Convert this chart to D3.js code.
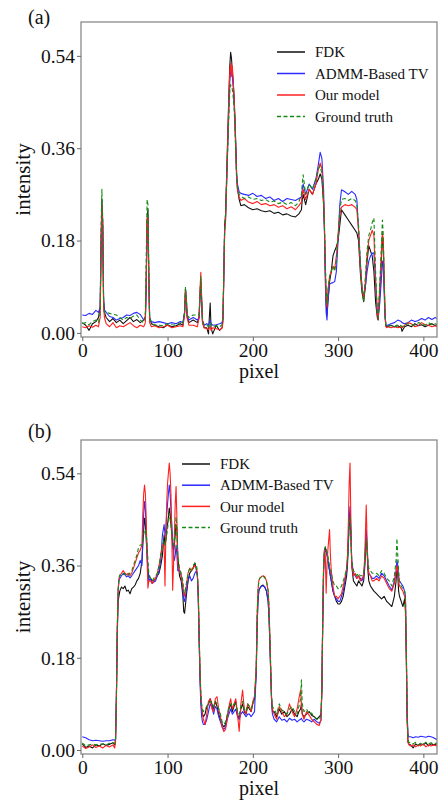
<!DOCTYPE html>
<html><head><meta charset="utf-8">
<script src="https://cdn.jsdelivr.net/npm/d3@7/dist/d3.min.js"></script>
<style>html,body{margin:0;padding:0;background:#fff;}svg{display:block;}</style>
</head><body>
<script>
// ---------- data ----------
const seriesNames = ["FDK", "ADMM-Based TV", "Our model", "Ground truth"];
const xTicks = [0, 100, 200, 300, 400];
const yTicks = [0.00, 0.18, 0.36, 0.54];
const panelLabels = ["(a)", "(b)"];

const pixelsA = [0,4,8,12,16,19,
 21,22,23,24,25,26,
 28,32,36,40,44,48,52,56,60,64,68,72,
 74,75,76,77,78,79,
 81,85,90,95,100,105,110,115,118,
 120,121,122,123,125,130,135,
 137,138,139,140,141,143,
 146,148,149,150,151,153,157,161,164,
 165,166,167,168,170,172,173,174,175,176,177,178,179,180,181,182,184,
 186,190,195,200,205,210,215,220,225,230,235,240,245,250,254,
 257,258,259,262,266,270,274,277,279,281,283,
 284,285,286,287,288,290,292,294,296,298,300,
 302,304,308,312,316,320,322,
 324,326,328,330,332,334,336,338,340,342,344,346,347,349,351,352,353,354,355,356,357,358,
 362,366,370,374,375,378,382,386,390,394,398,402,406,410,414,416];
const fdkA = [.020,.015,.005,.018,.022,.030,
 .05,.16,.26,.20,.06,.04,
 .030,.022,.028,.020,.025,.018,.024,.030,.022,.026,.020,.025,
 .03,.10,.22,.24,.12,.03,
 .018,.015,.012,.010,.016,.012,.014,.018,.015,
 .04,.08,.06,.03,.02,.025,.02,
 .03,.07,.10,.06,.02,.01,
 .01,-.002,.03,.058,.01,-.002,.015,.005,.01,
 .03,.12,.21,.23,.35,.47,.52,.547,.535,.51,.49,.46,.42,.37,.31,.28,.26,
 .248,.250,.244,.240,.242,.238,.236,.238,.233,.235,.230,.232,.228,.226,.232,
 .24,.26,.27,.25,.28,.27,.29,.30,.31,.30,.25,
 .20,.12,.06,.035,.06,.10,.12,.15,.16,.168,.18,
 .21,.24,.23,.22,.21,.20,.195,
 .18,.12,.08,.061,.09,.14,.17,.16,.15,.12,.06,.03,.025,.08,.15,.19,.17,.10,.04,.015,.012,.012,
 .015,.012,.014,.010,.003,.012,.015,.012,.018,.014,.016,.012,.015,.018,.014,.015];
const tvA = [.035,.034,.038,.036,.044,.040,
 .05,.18,.25,.22,.07,.045,
 .040,.032,.030,.025,.028,.030,.035,.034,.038,.040,.036,.025,
 .03,.09,.21,.23,.10,.03,
 .022,.020,.022,.020,.018,.020,.018,.022,.020,
 .04,.085,.07,.035,.025,.03,.025,
 .03,.07,.105,.06,.025,.015,
 .018,.015,.02,.025,.018,.015,.016,.018,.02,
 .03,.11,.20,.22,.33,.44,.49,.51,.505,.50,.48,.45,.41,.36,.31,.29,.275,
 .272,.270,.268,.272,.266,.268,.262,.265,.258,.262,.256,.262,.260,.258,.262,
 .265,.28,.29,.27,.29,.28,.30,.33,.352,.34,.28,
 .20,.10,.04,.025,.06,.095,.097,.098,.10,.12,.18,
 .25,.279,.275,.27,.276,.27,.26,
 .20,.14,.09,.07,.09,.12,.14,.15,.155,.156,.10,.04,.03,.06,.11,.14,.13,.08,.03,.015,.014,.015,
 .018,.02,.025,.022,.02,.018,.02,.025,.022,.024,.028,.025,.03,.026,.03,.028];
const oursA = [.012,.010,.014,.011,.015,.012,
 .03,.15,.25,.21,.05,.03,
 .018,.012,.020,.010,.014,.012,.016,.020,.014,.010,.015,.012,
 .02,.10,.22,.23,.10,.02,
 .012,.014,.010,.012,.015,.010,.012,.014,.012,
 .035,.085,.065,.03,.015,.015,.012,
 .03,.08,.118,.07,.02,.01,
 .008,.006,.01,.012,.005,.01,.008,.006,.01,
 .02,.11,.20,.215,.34,.46,.51,.526,.50,.52,.49,.46,.42,.36,.30,.28,.265,
 .258,.262,.255,.252,.256,.250,.252,.248,.250,.245,.248,.242,.246,.240,.248,
 .255,.27,.28,.26,.28,.27,.29,.32,.331,.32,.26,
 .21,.13,.07,.05,.08,.11,.12,.13,.125,.15,.19,
 .23,.245,.25,.248,.25,.245,.24,
 .20,.13,.09,.065,.10,.15,.18,.19,.20,.19,.10,.035,.028,.09,.16,.195,.18,.11,.04,.012,.01,.012,
 .01,.012,.01,.012,.01,.015,.02,.018,.012,.014,.02,.016,.015,.012,.014,.012];
const gtA = [.018,.020,.016,.022,.025,.020,
 .04,.20,.28,.22,.06,.04,
 .040,.038,.036,.035,.030,.025,.030,.028,.033,.035,.025,.020,
 .04,.15,.26,.25,.12,.03,
 .018,.016,.015,.014,.018,.016,.015,.020,.018,
 .04,.09,.07,.035,.03,.035,.035,
 .035,.075,.11,.065,.025,.015,
 .015,.012,.015,.02,.015,.012,.014,.012,.016,
 .03,.12,.21,.23,.33,.43,.47,.484,.48,.475,.46,.44,.40,.35,.30,.285,.27,
 .266,.262,.265,.260,.262,.258,.260,.255,.257,.252,.255,.250,.254,.248,.255,
 .27,.29,.308,.27,.29,.28,.30,.32,.325,.31,.26,
 .21,.14,.08,.055,.08,.11,.12,.13,.12,.14,.19,
 .24,.26,.262,.258,.262,.258,.25,
 .21,.14,.085,.061,.11,.16,.19,.20,.215,.224,.12,.04,.03,.10,.18,.22,.19,.11,.04,.015,.012,.014,
 .014,.012,.016,.014,.012,.015,.018,.016,.015,.02,.018,.015,.02,.016,.018,.016];

const pixelsB = [0,4,8,12,16,20,24,28,32,36,38,39,
 40,41,42,43,44,
 46,48,50,52,54,56,58,60,62,64,66,68,
 70,71,72,73,74,75,76,77,78,
 80,82,84,86,88,90,92,94,
 96,97,98,99,100,101,102,103,104,105,106,107,108,109,110,111,112,
 114,116,118,119,120,122,124,126,128,130,132,134,135,
 136,137,138,139,140,141,142,
 144,146,148,150,152,154,156,158,160,162,164,166,168,170,172,174,176,178,180,182,184,186,188,190,192,194,196,198,200,202,
 204,205,206,207,208,210,212,214,216,218,219,220,221,222,223,
 225,228,231,234,237,240,243,246,249,252,254,256,257,258,260,263,266,269,272,275,278,280,
 281,282,283,284,285,286,287,288,289,290,291,292,294,296,298,300,
 302,304,306,308,310,311,312,313,314,315,316,318,320,322,324,326,328,330,331,332,333,334,335,336,338,340,
 342,345,348,351,354,357,360,363,366,368,369,370,371,372,374,376,378,379,380,381,382,383,
 385,388,391,394,397,400,403,406,409,412,416];
const fdkB = [.012,.005,.008,.004,.01,.008,.012,.009,.011,.014,.01,.02,
 .10,.22,.29,.30,.31,
 .318,.315,.32,.31,.312,.305,.315,.318,.322,.33,.335,.345,
 .37,.40,.43,.452,.44,.41,.38,.35,.34,
 .335,.33,.33,.335,.34,.345,.36,.38,
 .42,.40,.41,.43,.44,.455,.472,.46,.44,.42,.40,.39,.40,.42,.44,.43,.38,
 .34,.33,.30,.27,.267,.30,.33,.345,.35,.355,.365,.35,.34,
 .30,.22,.15,.10,.08,.07,.065,
 .07,.085,.09,.10,.09,.08,.095,.085,.07,.06,.05,.045,.05,.065,.08,.09,.075,.085,.095,.07,.06,.08,.09,.075,.07,.085,.08,.075,.09,.10,
 .15,.24,.29,.31,.315,.32,.322,.318,.31,.29,.26,.21,.15,.10,.075,
 .075,.065,.08,.07,.075,.065,.07,.08,.07,.065,.075,.08,.09,.07,.065,.07,.075,.068,.065,.06,.065,.07,
 .12,.25,.35,.39,.395,.39,.385,.37,.36,.35,.34,.33,.31,.30,.29,.285,
 .285,.29,.30,.32,.34,.36,.40,.44,.458,.42,.36,.33,.325,.32,.33,.325,.32,.33,.35,.38,.423,.39,.35,.33,.32,.315,
 .31,.305,.30,.295,.30,.29,.285,.28,.30,.33,.36,.34,.31,.30,.29,.28,.295,.27,.18,.06,.015,.012,
 .01,.004,.012,.008,.012,.01,.014,.008,.012,.01,.012];
const tvB = [.026,.024,.02,.018,.019,.018,.017,.018,.018,.02,.019,.022,
 .10,.23,.31,.33,.335,
 .34,.345,.342,.338,.34,.336,.34,.345,.35,.355,.36,.37,
 .36,.42,.46,.485,.47,.43,.39,.35,.33,
 .335,.325,.328,.33,.34,.35,.37,.42,
 .44,.42,.43,.46,.48,.50,.517,.50,.47,.44,.41,.38,.37,.38,.40,.38,.35,
 .35,.34,.31,.295,.29,.31,.33,.34,.33,.335,.345,.35,.34,
 .30,.22,.14,.09,.065,.055,.05,
 .05,.06,.075,.09,.085,.07,.085,.08,.065,.055,.045,.04,.045,.06,.07,.08,.07,.075,.08,.065,.06,.07,.075,.07,.065,.07,.07,.065,.07,.075,
 .15,.24,.29,.31,.315,.32,.32,.318,.31,.29,.26,.21,.15,.095,.07,
 .06,.055,.065,.058,.06,.055,.062,.058,.06,.055,.058,.06,.062,.058,.055,.06,.058,.055,.06,.055,.052,.058,
 .12,.25,.35,.385,.39,.385,.38,.37,.36,.35,.34,.33,.31,.30,.295,.29,
 .29,.30,.31,.33,.35,.37,.41,.45,.475,.43,.37,.345,.34,.335,.34,.335,.33,.34,.36,.39,.43,.40,.36,.345,.34,.335,
 .335,.34,.335,.345,.34,.33,.32,.312,.33,.35,.37,.36,.34,.33,.325,.32,.31,.30,.20,.07,.03,.026,
 .026,.024,.026,.025,.027,.026,.025,.027,.026,.024,.02];
const oursB = [.008,.003,.006,.01,.005,.008,.004,.009,.006,.01,.004,.015,
 .10,.23,.31,.335,.34,
 .345,.35,.345,.342,.345,.34,.345,.355,.365,.375,.385,.39,
 .40,.46,.50,.517,.50,.45,.37,.316,.33,
 .33,.325,.33,.335,.345,.36,.38,.40,
 .40,.32,.42,.48,.52,.54,.56,.54,.50,.42,.312,.36,.42,.48,.514,.45,.36,
 .35,.34,.32,.305,.30,.32,.345,.355,.35,.355,.36,.355,.34,
 .31,.23,.16,.11,.085,.07,.06,
 .05,.07,.095,.10,.08,.075,.10,.104,.08,.065,.045,.036,.04,.06,.085,.10,.08,.09,.10,.07,.036,.09,.117,.08,.07,.09,.085,.075,.095,.105,
 .16,.26,.31,.33,.335,.338,.34,.338,.33,.31,.28,.22,.16,.10,.08,
 .07,.06,.085,.075,.065,.07,.09,.075,.065,.08,.1,.117,.09,.07,.06,.075,.068,.06,.055,.05,.048,.06,
 .12,.26,.36,.39,.38,.306,.36,.39,.41,.43,.38,.35,.32,.30,.30,.295,
 .30,.305,.32,.335,.355,.38,.44,.52,.56,.45,.36,.34,.345,.335,.34,.33,.335,.34,.37,.42,.478,.41,.36,.345,.34,.33,
 .33,.335,.33,.34,.335,.325,.315,.31,.325,.345,.36,.35,.33,.32,.315,.31,.30,.29,.19,.06,.015,.01,
 .008,.01,.006,.01,.008,.012,.006,.01,.008,.01,.008];
const gtB = [.014,.008,.01,.012,.01,.011,.012,.01,.013,.014,.012,.02,
 .10,.23,.31,.335,.342,
 .34,.342,.345,.34,.342,.345,.35,.36,.37,.38,.395,.40,
 .40,.41,.42,.43,.43,.42,.40,.37,.345,
 .335,.33,.335,.34,.345,.36,.38,.40,
 .41,.40,.41,.42,.43,.45,.462,.45,.44,.42,.41,.40,.41,.43,.455,.43,.38,
 .355,.345,.33,.31,.305,.325,.345,.355,.35,.36,.365,.36,.345,
 .31,.23,.16,.11,.09,.08,.075,
 .08,.085,.09,.095,.09,.085,.095,.09,.08,.07,.055,.05,.055,.07,.085,.09,.085,.09,.09,.075,.07,.085,.095,.08,.075,.09,.085,.08,.09,.10,
 .16,.26,.31,.33,.335,.338,.34,.336,.33,.31,.28,.22,.16,.105,.085,
 .08,.07,.09,.078,.075,.07,.08,.085,.075,.07,.085,.1,.137,.09,.075,.08,.07,.072,.065,.06,.06,.068,
 .12,.26,.36,.39,.397,.39,.385,.38,.37,.36,.35,.345,.33,.32,.32,.315,
 .315,.32,.33,.34,.355,.37,.40,.44,.455,.42,.37,.35,.345,.34,.345,.34,.34,.345,.36,.38,.41,.39,.37,.355,.35,.345,
 .345,.345,.34,.35,.345,.335,.33,.32,.34,.37,.413,.38,.35,.33,.32,.315,.31,.30,.20,.07,.02,.015,
 .014,.012,.015,.01,.014,.012,.015,.012,.014,.012,.014];

// ---------- drawing ----------
const W = 444, H = 802;
const colors = ["#111111", "#2b2bff", "#ff2020", "#148a14"];
const dashes = [null, null, null, "4,2.5"];
const FONT = "'Liberation Serif','Times New Roman',serif";
const svg = d3.select("body").append("svg").attr("width", W).attr("height", H)
  .style("font-family", FONT);

const panels = [
  {label: panelLabels[0], pixels: pixelsA, series: [fdkA, tvA, oursA, gtA],
   top: 22, bottom: 337, yDom: [-0.008, 0.606], labelY: 24,
   legX: 277, legY: 52, legStep: 21.5},
  {label: panelLabels[1], pixels: pixelsB, series: [fdkB, tvB, oursB, gtB],
   top: 440, bottom: 754, yDom: [-0.0078, 0.605], labelY: 438,
   legX: 182, legY: 464, legStep: 21.2}
];
const left = 81, right = 437;

panels.forEach((p, pi) => {
  const x = d3.scaleLinear().domain([-1.5, 416]).range([left, right]);
  const y = d3.scaleLinear().domain(p.yDom).range([p.bottom, p.top]);
  const g = svg.append("g");
  const clipId = "clip" + pi;
  g.append("clipPath").attr("id", clipId).append("rect")
    .attr("x", left).attr("y", p.top).attr("width", right - left).attr("height", p.bottom - p.top);

  const lines = g.append("g").attr("clip-path", `url(#${clipId})`);
  p.series.forEach((vals, si) => {
    const n = Math.min(vals.length, p.pixels.length);
    const pts = d3.range(n).map(i => [p.pixels[i], vals[i]]);
    const line = d3.line().x(d => x(d[0])).y(d => y(d[1]));
    lines.append("path").datum(pts).attr("d", line)
      .attr("fill", "none").attr("stroke", colors[si]).attr("stroke-width", 1.1)
      .attr("stroke-linejoin", "round")
      .attr("stroke-dasharray", dashes[si]);
  });

  // frame
  g.append("rect").attr("x", left).attr("y", p.top).attr("width", right - left)
    .attr("height", p.bottom - p.top).attr("fill", "none")
    .attr("stroke", "#8a8a8a").attr("stroke-width", 1.3);

  // axes
  const xAxis = d3.axisBottom(x).tickValues(xTicks).tickSize(4).tickPadding(2);
  const yAxis = d3.axisLeft(y).tickValues(yTicks).tickSize(4).tickPadding(2)
    .tickFormat(d3.format(".2f"));
  const gx = g.append("g").attr("transform", `translate(0,${p.bottom})`).call(xAxis);
  const gy = g.append("g").attr("transform", `translate(${left},0)`).call(yAxis);
  [gx, gy].forEach(a => {
    a.select(".domain").remove();
    a.selectAll(".tick line").attr("stroke", "#666");
    a.selectAll(".tick text").attr("fill", "#111").style("font-family", FONT).style("font-size", "19.5px");
  });

  g.append("text").attr("x", (left + right) / 2).attr("y", p.bottom + 41)
    .attr("text-anchor", "middle").style("font-size", "20px").attr("fill", "#111").text("pixel");
  const cy = (p.top + p.bottom) / 2;
  g.append("text").attr("transform", `translate(30,${cy}) rotate(-90)`)
    .attr("text-anchor", "middle").style("font-size", "21px").attr("fill", "#111").text("intensity");
  g.append("text").attr("x", 28).attr("y", p.labelY)
    .style("font-size", "20px").attr("fill", "#111").text(p.label);

  // legend
  seriesNames.forEach((name, si) => {
    const yy = p.legY + si * p.legStep;
    g.append("line").attr("x1", p.legX).attr("x2", p.legX + 28)
      .attr("y1", yy).attr("y2", yy).attr("stroke", colors[si]).attr("stroke-width", 1.5)
      .attr("stroke-dasharray", dashes[si]);
    g.append("text").attr("x", p.legX + 38).attr("y", yy).attr("dy", "0.35em")
      .style("font-size", "15px").attr("fill", "#111").text(name);
  });
});
</script>
</body></html>
